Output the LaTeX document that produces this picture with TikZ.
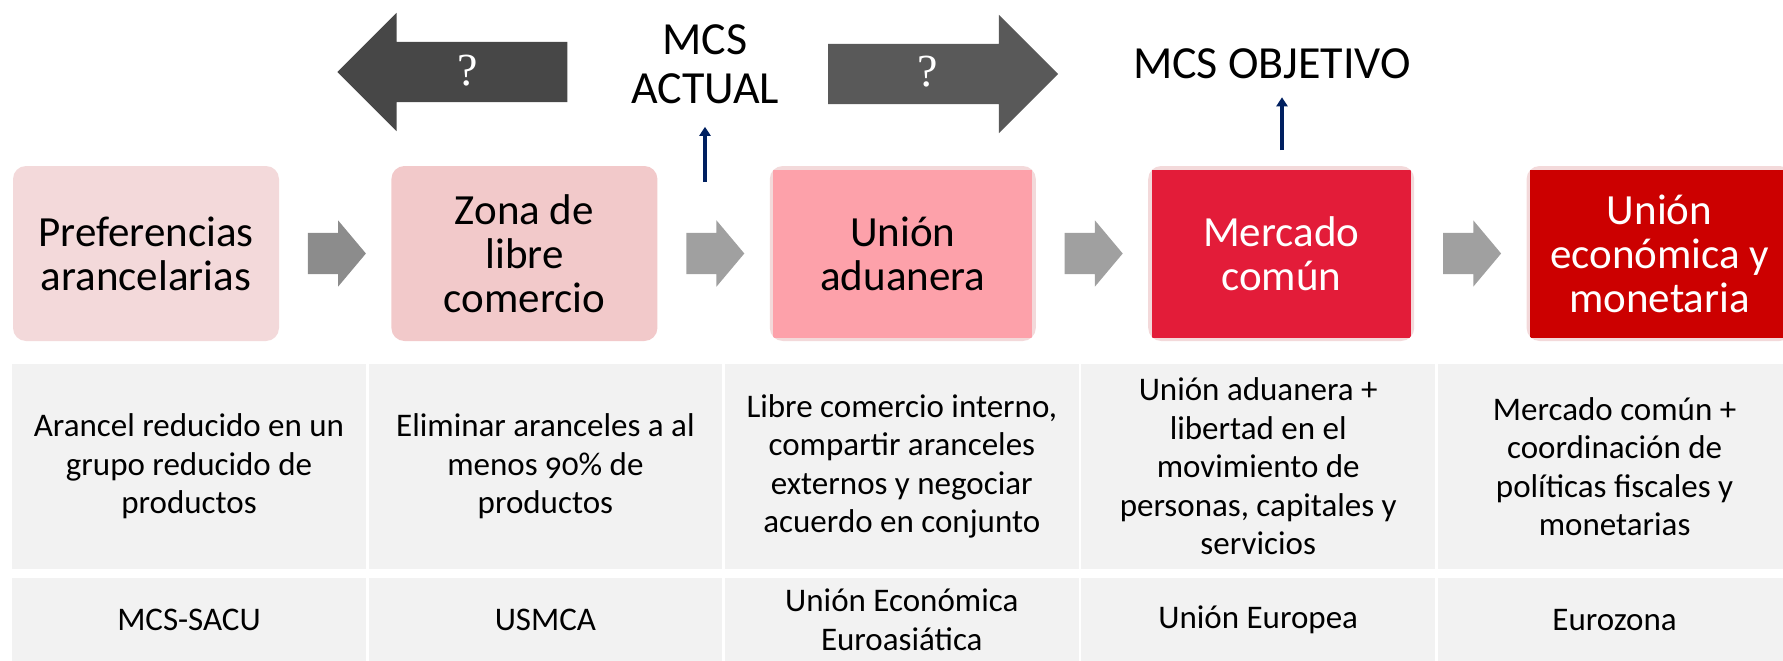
\documentclass[tikz,border=0pt]{standalone}
\usepackage{fontspec}
\setmainfont{Carlito}[Numbers=OldStyle]
\newfontfamily\qmarkfont{Liberation Serif}
\usetikzlibrary{arrows.meta, positioning}
\usetikzlibrary{shapes.arrows}

\definecolor{pinkpale}{HTML}{F3D9DA}
\definecolor{pinksoft}{HTML}{F2C9CA}
\definecolor{pinkmid}{HTML}{FDA1AA}
\definecolor{redbright}{HTML}{E31C39}
\definecolor{reddeep}{HTML}{CC0000}
\definecolor{cellgray}{HTML}{F2F2F2}
\definecolor{navyline}{HTML}{002060}
\definecolor{greyA}{HTML}{8C8C8C}
\definecolor{greyB}{HTML}{A0A0A0}
\definecolor{bigleft}{HTML}{474747}
\definecolor{bigright}{HTML}{595959}

\begin{document}
\begin{tikzpicture}[
    x=1pt, y=-1pt,
    node distance=112pt and 112pt, % gap between the stage boxes
    stage/.style={rectangle, rounded corners=13pt, fill=pinkpale, minimum width=266pt, minimum height=175pt, inner sep=0pt, align=center, text=black, font=\fontsize{43}{44}\selectfont},
    stagecore/.style={stage, path picture={\fill[#1, sharp corners] ([shift={(3.5pt,-3.5pt)}]path picture bounding box.north west) rectangle ([shift={(-3.5pt,3.5pt)}]path picture bounding box.south east);}}, % square coloured box inside the pale frame
    steparrow/.style={single arrow, fill=greyB, minimum height=58pt, minimum width=66pt, single arrow head extend=12.5pt, single arrow tip angle=100, inner xsep=0pt, inner ysep=20.5pt},
    bigarrow/.style={single arrow, minimum height=230pt, minimum width=118pt, single arrow head extend=29pt, single arrow tip angle=90, inner sep=0pt, text height=43pt, text depth=17pt, text=white, font=\qmarkfont\fontsize{46}{46}\selectfont},
    headline/.style={inner sep=0pt, align=center, font=\fontsize{46}{49}\selectfont},
    pointer/.style={draw=navyline, line width=3.5pt, -{Triangle[width=11pt,length=9pt]}},
    desc/.style={rectangle, fill=cellgray, minimum width=353.5pt, minimum height=205pt, inner sep=0pt, align=center, font=\fontsize{33}{38.5}\selectfont},
    casebox/.style={desc, minimum height=83pt}
]
\useasboundingbox (0,0) rectangle (1783,661);

% Stages
\node[stage] (pref) at (146,253.5) {Preferencias\\arancelarias};
\node[stage, fill=pinksoft, right=of pref] (zona) {Zona de\\libre\\comercio};
\node[stagecore=pinkmid, right=of zona] (aduana) {Unión\\aduanera};
\node[stagecore=redbright, text=white, right=of aduana] (mercado) {Mercado\\común};
\node[stagecore=reddeep, text=white, right=of mercado] (monetaria) {Unión\\económica y\\monetaria};

% Arrows between stages
\node[steparrow, fill=greyA, right=28.5pt of pref] (step1) {};
\node[steparrow, right=28.5pt of zona] (step2) {};
\node[steparrow, right=28.5pt of aduana] (step3) {};
\node[steparrow, right=28.5pt of mercado] (step4) {};

% Big arrows and headlines
\node[bigarrow, fill=bigleft, shape border rotate=180] (back) at (467.5,72) {?};
\node[bigarrow, fill=bigright] (ahead) at (928,74) {?};
\node[headline] (actual) at (705,64) {MCS\\ACTUAL};
\node[headline] (target) at (1272,64) {MCS OBJETIVO};

% Pointers to the headlines
\coordinate (actualfoot) at (705,182);
\coordinate (targetfoot) at (1282,150);
\draw[pointer, shorten >=23pt] (actualfoot) -- (actualfoot |- actual.south);
\draw[pointer, shorten >=18pt] (targetfoot) -- (targetfoot |- target.south);

% Description row
\node[desc] (prefdesc) at (189,466.5) {Arancel reducido en un\\grupo reducido de\\productos};
\node[desc, right=2.5pt of prefdesc] (zonadesc) {Eliminar aranceles a al\\menos 90\% de\\productos};
\node[desc, right=2.5pt of zonadesc] (aduanadesc) {Libre comercio interno,\\compartir aranceles\\externos y negociar\\acuerdo en conjunto};
\node[desc, right=2.5pt of aduanadesc] (mercadodesc) {Unión aduanera +\\libertad en el\\movimiento de\\personas, capitales y\\servicios};
\node[desc, right=2.5pt of mercadodesc] (monetariadesc) {Mercado común +\\coordinación de\\políticas fiscales y\\monetarias};

% Example row
\node[casebox, below=9pt of prefdesc] (prefcase) {MCS-SACU};
\node[casebox, below=9pt of zonadesc] (zonacase) {USMCA};
\node[casebox, below=9pt of aduanadesc] (aduanacase) {Unión Económica\\Euroasiática};
\node[casebox, below=9pt of mercadodesc] (mercadocase) {Unión Europea};
\node[casebox, below=9pt of monetariadesc] (monetariacase) {Eurozona};

\end{tikzpicture}
\end{document}
